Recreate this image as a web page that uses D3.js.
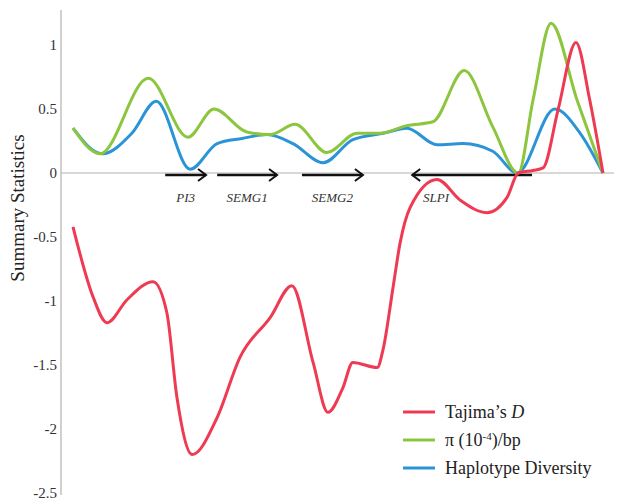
<!DOCTYPE html>
<html><head><meta charset="utf-8">
<script src="https://cdn.jsdelivr.net/npm/d3@7"></script>
<style>
body{margin:0;background:#fff;}
svg{display:block;}
</style></head>
<body>
<script>
// Positions along the region (relative units 0-100)
const tajimaX = [0,3.8,6.4,10.2,15.1,17.7,19.6,22.5,27.2,31.5,37.2,41.3,45.3,48.1,50.9,52.8,57.4,58.5,60.4,61.7,63.6,68.7,73.0,78.1,81.9,84.0,86.8,88.7,91.5,94.9,97.5,100];
const tajimaD = [-0.42,-0.97,-1.17,-0.99,-0.85,-1.09,-1.75,-2.20,-1.91,-1.44,-1.13,-0.88,-1.48,-1.87,-1.68,-1.48,-1.52,-1.38,-0.89,-0.55,-0.27,-0.05,-0.21,-0.31,-0.19,0.0,0.02,0.04,0.49,1.02,0.57,0];
const piX = [0,5.1,14.2,21.7,26.6,32.8,37.2,41.9,47.9,53.6,57.9,63.0,67.9,73.8,79.2,84.0,86.8,90.2,95.1,100];
const piVals = [0.35,0.15,0.74,0.28,0.50,0.32,0.30,0.38,0.16,0.31,0.31,0.37,0.40,0.80,0.36,0.0,0.57,1.17,0.57,0];
const hapX = [0,5.5,11.1,15.7,22.1,27.2,31.9,36.6,41.5,47.2,52.8,58.5,63.0,68.7,73.6,79.2,83.8,90.9,95.7,100];
const hapVals = [0.35,0.15,0.31,0.56,0.03,0.23,0.27,0.30,0.23,0.08,0.26,0.31,0.35,0.22,0.23,0.17,0.0,0.50,0.31,0];
const genes = ["PI3","SEMG1","SEMG2","SLPI"];
const geneStart = [17.4,27.2,43.2,86.6];
const geneEnd = [25.1,38.5,54.7,64.0];
const yTicks = [1,0.5,0,-0.5,-1,-1.5,-2,-2.5];
const yTickLabels = ["1","0.5","0","-0.5","-1","-1.5","-2","-2.5"];
const seriesNames = ["Tajima\u2019s D","\u03c0 (10\u207b\u2074)/bp","Haplotype Diversity"];
const seriesColors = ["#ee3a52","#8cc63f","#2b94d6"];

// pick an installed serif font
function pickFont(){
  const c=document.createElement("canvas").getContext("2d");
  const s="Summary Statistics Haplotype 0123";
  c.font="20px monospace"; const base=c.measureText(s).width;
  const cands=["Liberation Serif","DejaVu Serif","Noto Serif","Times New Roman","Times"];
  for(const f of cands){ c.font=`20px "${f}", monospace`; if(Math.abs(c.measureText(s).width-base)>0.5) return `"${f}", serif`; }
  return "serif";
}
const FONT = pickFont();
const W=623,H=502;
const svg=d3.select("body").append("svg").attr("width",W).attr("height",H).style("font-family",FONT);
const x=d3.scaleLinear().domain([0,100]).range([73,603]);
const y=d3.scaleLinear().domain([-2.5,1.25]).range([493,13]);

// y axis
svg.append("line").attr("x1",61).attr("x2",61).attr("y1",10).attr("y2",495).attr("stroke","#b5b0ad").attr("stroke-width",1.2);
// zero line
svg.append("line").attr("x1",61).attr("x2",614).attr("y1",y(0)).attr("y2",y(0)).attr("stroke","#b5b0ad").attr("stroke-width",1.2);
svg.selectAll(".yt").data(yTicks).enter().append("text")
  .attr("x",57).attr("y",d=>y(d)).attr("dy","0.35em").attr("text-anchor","end")
  .attr("font-size",15).attr("fill","#333").text((d,i)=>yTickLabels[i]);
svg.append("text").attr("transform","translate(24,208) rotate(-90)").attr("text-anchor","middle")
  .attr("font-size",19).attr("fill","#222").text("Summary Statistics");

// gene arrows
genes.forEach((g,i)=>{
  const yy=y(0)+2;
  svg.append("line").attr("x1",x(geneStart[i])).attr("x2",x(geneEnd[i])).attr("y1",yy).attr("y2",yy)
    .attr("stroke","#111").attr("stroke-width",2.5);
  const dir = geneEnd[i]>geneStart[i]?1:-1;
  const ex=x(geneEnd[i]);
  svg.append("path").attr("d",`M${ex-dir*8},${yy-6} L${ex},${yy} L${ex-dir*8},${yy+6}`)
    .attr("fill","none").attr("stroke","#111").attr("stroke-width",2);
});
const labelX=[(geneStart[0]+geneEnd[0])/2,(geneStart[1]+geneEnd[1])/2,(geneStart[2]+geneEnd[2])/2,geneEnd[3]+4.5];
genes.forEach((g,i)=>{
  svg.append("text").attr("x",x(labelX[i])).attr("y",y(0)+29).attr("text-anchor","middle")
    .attr("font-size",13).attr("font-style","italic").attr("fill","#333").text(g);
});

// lines
const line=d3.line().x(d=>x(d[0])).y(d=>y(d[1])).curve(d3.curveMonotoneX);
const series=[d3.zip(tajimaX,tajimaD), d3.zip(piX,piVals), d3.zip(hapX,hapVals)];
[2,1,0].forEach(i=>{
  svg.append("path").attr("d",line(series[i])).attr("fill","none").attr("stroke",seriesColors[i]).attr("stroke-width",3);
});

// legend
const lg=svg.append("g");
seriesNames.forEach((n,i)=>{
  const yy=412+i*28;
  lg.append("line").attr("x1",403).attr("x2",435).attr("y1",yy).attr("y2",yy).attr("stroke",seriesColors[i]).attr("stroke-width",3);
  const t=lg.append("text").attr("x",445).attr("y",yy).attr("dy","0.35em").attr("font-size",18).attr("fill","#222");
  if(i===0){ t.append("tspan").text("Tajima\u2019s "); t.append("tspan").attr("font-style","italic").text("D"); }
  else if(i===1){ t.append("tspan").text("\u03c0 (10"); t.append("tspan").attr("font-size",11).attr("baseline-shift","super").text("-4"); t.append("tspan").attr("baseline-shift","baseline").text(")/bp"); }
  else t.text(n);
});
</script>
</body></html>
